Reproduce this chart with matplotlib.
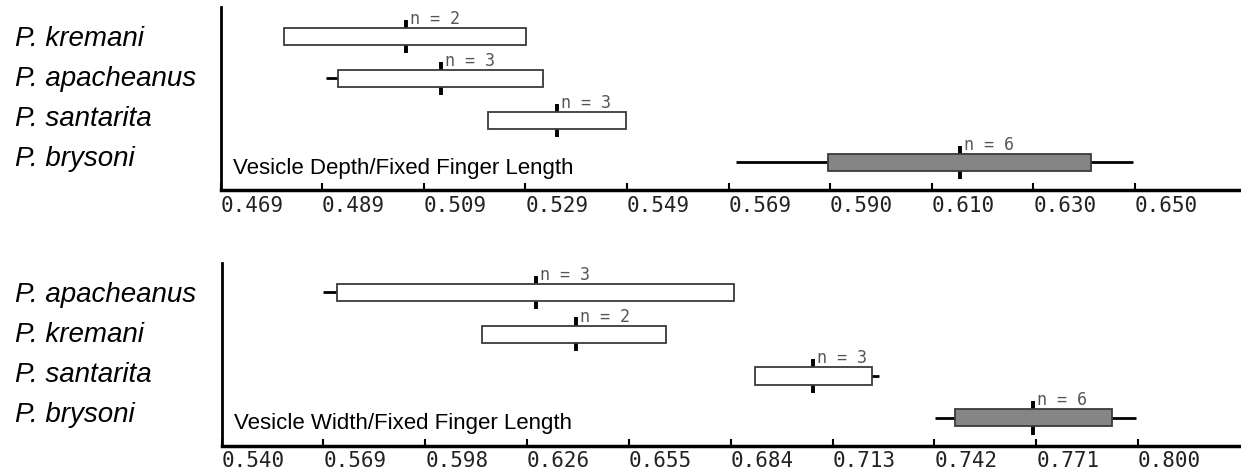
import numpy as np
import matplotlib
matplotlib.use('Agg')
import matplotlib.pyplot as plt
import matplotlib.transforms as mtransforms

# 上段: Vesicle Depth / Fixed Finger Length
top_species = ['P. kremani', 'P. apacheanus', 'P. santarita', 'P. brysoni']
top_lo = [0.4816, 0.4899, 0.5220, 0.5710]
top_q1 = [0.4816, 0.4923, 0.5220, 0.5892]
top_med = [0.5057, 0.5126, 0.5356, 0.6154]
top_q3 = [0.5295, 0.5329, 0.5493, 0.6414]
top_hi = [0.5295, 0.5329, 0.5493, 0.6496]
top_n = [2, 3, 3, 6]
top_ticklabels = ['0.469', '0.489', '0.509', '0.529', '0.549',
                  '0.569', '0.590', '0.610', '0.630', '0.650']

# 下段: Vesicle Width / Fixed Finger Length
bot_species = ['P. apacheanus', 'P. kremani', 'P. santarita', 'P. brysoni']
bot_lo = [0.5687, 0.6140, 0.6913, 0.7424]
bot_q1 = [0.5728, 0.6140, 0.6913, 0.7480]
bot_med = [0.6291, 0.6404, 0.7078, 0.7702]
bot_q3 = [0.6853, 0.6662, 0.7246, 0.7925]
bot_hi = [0.6853, 0.6662, 0.7266, 0.7994]
bot_n = [3, 2, 3, 6]
bot_ticklabels = ['0.540', '0.569', '0.598', '0.626', '0.655',
                  '0.684', '0.713', '0.742', '0.771', '0.800']

plt.rcParams['font.family'] = ['Liberation Sans', 'DejaVu Sans']

fig = plt.figure(figsize=(12.41, 4.75), dpi=100)
ax_top = fig.add_axes([0.1777, 0.600, 0.8223, 0.3853])
ax_bot = fig.add_axes([0.1786, 0.0621, 0.8214, 0.3842])


def draw_panel(ax, species, lo, q1, med, q3, hi, n, ticklabels, xmax, title):
    rows = np.arange(len(species))
    fills = ['white'] * (len(species) - 1) + ['#858585']
    for i in rows:
        ax.hlines(i, lo[i], hi[i], color='black', lw=2.0, zorder=1)
        ax.vlines(med[i], i - 0.40, i + 0.40, color='black', lw=2.8, zorder=1)
        ax.barh(i, q3[i] - q1[i], left=q1[i], height=0.41, color=fills[i],
                edgecolor='#3a3a3a', linewidth=1.3, zorder=3)
        ax.annotate('n = %d' % n[i], (med[i], i - 0.205), xytext=(3, 0),
                    textcoords='offset points', ha='left', va='bottom',
                    fontsize=12, color='#555555', family='DejaVu Sans Mono')
    ticks = np.linspace(float(ticklabels[0]), float(ticklabels[-1]), len(ticklabels))
    ax.set_xlim(ticks[0], xmax)
    ax.set_ylim(3.66, -0.70)
    ax.set_xticks(ticks)
    ax.set_xticklabels(ticklabels, ha='left', family='DejaVu Sans Mono',
                       fontsize=15, color='#222222')
    ax.tick_params(axis='x', direction='in', length=5, width=1.5, pad=4)
    ax.set_yticks([])
    for s in ['top', 'right']:
        ax.spines[s].set_visible(False)
    ax.spines['left'].set_linewidth(2.0)
    ax.spines['bottom'].set_linewidth(2.5)
    ax.text(0.012, 0.12, title, transform=ax.transAxes, fontsize=16,
            ha='left', va='center', color='black')
    # 種名ラベル
    trans = mtransforms.blended_transform_factory(fig.transFigure, ax.transData)
    for i in rows:
        ax.text(0.012, i * 0.95 + 0.07, species[i], transform=trans, fontsize=20,
                style='italic', ha='left', va='center', color='black')


draw_panel(ax_top, top_species, top_lo, top_q1, top_med, top_q3, top_hi, top_n,
           top_ticklabels, 0.6710, 'Vesicle Depth/Fixed Finger Length')
draw_panel(ax_bot, bot_species, bot_lo, bot_q1, bot_med, bot_q3, bot_hi, bot_n,
           bot_ticklabels, 0.8292, 'Vesicle Width/Fixed Finger Length')

fig.savefig('out.png', dpi=100)
plt.close()
